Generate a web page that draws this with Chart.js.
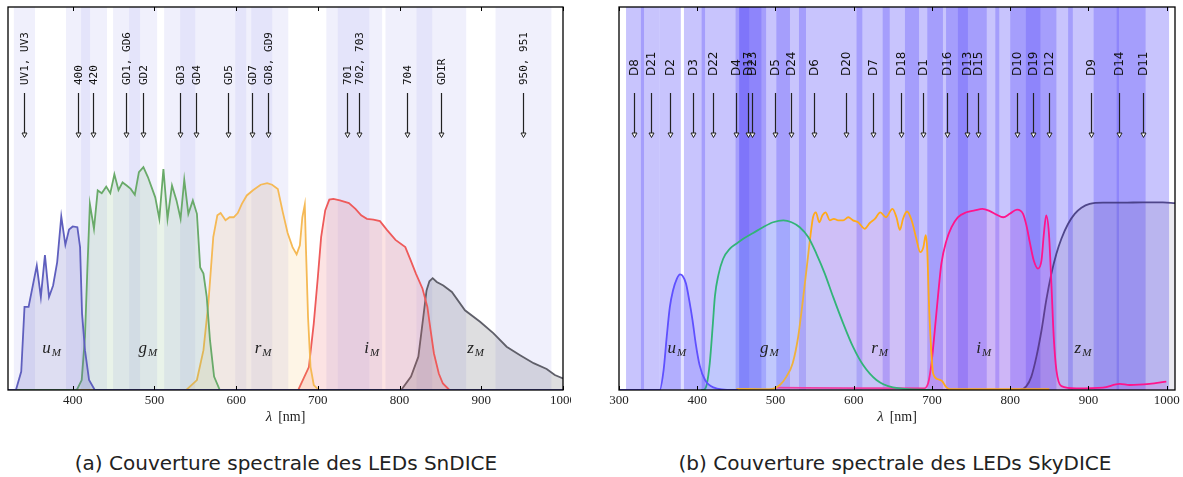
<!DOCTYPE html>
<html>
<head>
<meta charset="utf-8">
<script src="https://cdn.jsdelivr.net/npm/chart.js@4.4.1/dist/chart.umd.min.js"></script>
<style>
  body { margin: 0; background: #fff; width: 1183px; height: 477px; position: relative; overflow: hidden; }
  .wrap { position: absolute; top: 0; height: 440px; overflow: hidden; }
  #wrapA { left: 0; width: 571px; }
  #wrapB { left: 606px; width: 577px; }
  .caption { position: absolute; top: 451px; font-family: "DejaVu Sans", sans-serif; font-size: 20px; line-height: 24px; color: #222; text-align: center; }
  #capA { left: 0; width: 572px; }
  #capB { left: 606px; width: 578px; }
</style>
</head>
<body>
<div class="wrap" id="wrapA"><canvas id="snChart" width="600" height="440"></canvas></div>
<div class="wrap" id="wrapB"><canvas id="skyChart" width="577" height="440"></canvas></div>
<div class="caption" id="capA">(a) Couverture spectrale des LEDs SnDICE</div>
<div class="caption" id="capB">(b) Couverture spectrale des LEDs SkyDICE</div>

<script>
//************ Data : SnDICE (panel a) */

const snTicks = [400, 500, 600, 700, 800, 900, 1000];

// wavelength ranges covered by the LEDs (nm)
const snBands = [[328,353.8],[391.8,421.2],[410.2,442],[449.4,482.5],[469,503.3],[511.9,549.9],[531.5,570],
  [570,612.4],[598.9,644.2],[618.5,663.8],[710.4,763.1],[724.3,778.7],[782.7,840],[820.7,881.6],[917.4,985.8]];

const snArrowLambda = [340.3, 405.9, 424.9, 465.3, 486, 531, 550.7, 590, 619.7, 639.3, 735.8, 750.9, 809.3, 851, 951];
const snArrowLabel = ['UV1, UV3','400','420','GD1, GD6','GD2','GD3','GD4','GD5','GD7','GD8, GD9','701','702, 703','704','GDIR','950, 951'];

// filter transmissions [lambda, T]
const snU = [[320.8,0],[330.5,0],[337,0.048],[341,0.217],[346,0.217],[356,0.325],[361,0.243],[366,0.352],[371,0.243],
  [376,0.273],[381,0.334],[386,0.453],[391,0.379],[395.5,0.419],[400,0.427],[405.7,0.425],[409,0.373],[411.4,0.2],
  [415,0.104],[420,0.026],[427,0],[1000,0]];
const snG = [[320.8,0],[405,0],[411,0.026],[415,0.139],[418,0.32],[421,0.486],[426,0.421],[430.6,0.521],[435.5,0.514],
  [441,0.531],[446,0.514],[451,0.563],[456,0.522],[461,0.542],[466,0.534],[471,0.525],[476,0.51],[481,0.569],
  [486.5,0.582],[492,0.556],[501,0.503],[506,0.447],[511,0.577],[516,0.447],[521.5,0.534],[527,0.495],[532,0.447],
  [536.5,0.549],[541.5,0.46],[547,0.495],[552,0.46],[556,0.32],[560,0.304],[564,0.243],[568,0.13],[573,0.035],
  [580,0],[1000,0]];
const snR = [[320.8,0],[539,0],[552,0.026],[560,0.104],[566,0.226],[572,0.399],[577,0.456],[581,0.462],[587,0.443],
  [592,0.451],[597,0.451],[602,0.462],[607,0.486],[613,0.508],[621,0.522],[630,0.536],[638,0.54],[644,0.536],
  [651,0.525],[657,0.465],[663,0.41],[669,0.373],[674,0.354],[678,0.378],[681,0.451],[684,0.484],[685.5,0.365],
  [688,0.19],[691,0.06],[695,0.013],[701,0],[1000,0]];
const snI = [[320.8,0],[676,0],[689,0.06],[695,0.174],[700,0.295],[704,0.399],[709,0.469],[714,0.497],[719,0.499],
  [727,0.495],[738,0.488],[746,0.473],[753,0.456],[760,0.447],[768,0.445],[776,0.441],[784.5,0.418],[795,0.392],
  [807,0.373],[813.5,0.339],[820,0.304],[828,0.265],[834,0.217],[838,0.156],[842,0.096],[848,0.043],[853,0.017],
  [861,0],[1000,0]];
const snZ = [[320.8,0],[802,0],[814,0.035],[823,0.087],[829,0.19],[833,0.26],[836.5,0.284],[840.5,0.292],[845.5,0.282],
  [853.5,0.273],[864,0.256],[880,0.208],[898.5,0.178],[915,0.148],[931,0.113],[947.5,0.091],[964,0.07],[980,0.055],
  [990,0.039],[1000,0.03]];

//************ Data : SkyDICE (panel b) */

const skyTicks = [300, 400, 500, 600, 700, 800, 900, 1000];

const skyBands = [[309,332],[328,352],[352,379],[383,410],[405.6,466.4],[449,488],[453.6,482],[453.6,501],[501,518.5],
  [501,539],[530,611],[603.6,646],[637,683.5],[665.5,714],[694,733],[718,786],[733,770],[733,746],[781,838.6],
  [800,859],[820,880],[874,939],[906.6,973],[936,1003]];

const skyArrowLambda = [319, 340.5, 365, 395, 419.7, 449.4, 464.4, 469.5, 499, 519.5, 549, 590, 624.8, 660, 688.6,
  719.3, 745, 759.4, 808.7, 829, 849, 903.7, 939, 969.6];
const skyArrowLabel = ['D8','D21','D2','D3','D22','D4','D17','D23','D5','D24','D6','D20','D7','D18','D1',
  'D16','D13','D15','D10','D19','D12','D9','D14','D11'];

const skyU = [[300,0],[352,0],[357,0.052],[361,0.139],[365,0.217],[369,0.26],[374,0.291],[378,0.302],[381,0.299],
  [385.6,0.278],[389.8,0.234],[394,0.182],[398,0.122],[403,0.065],[410,0.026],[420.5,0.007],[446,0],[452,0]];
const skyG = [[405,0],[407.7,0],[412,0.013],[416,0.07],[420,0.174],[422.6,0.245],[427,0.3],[433,0.342],[441.8,0.369],
  [450,0.382],[458.8,0.395],[471.5,0.41],[484,0.425],[497,0.438],[510,0.443],[520.5,0.438],[531,0.425],[542,0.399],
  [552.5,0.355],[563,0.304],[573.7,0.243],[586.5,0.174],[599,0.113],[612,0.065],[629,0.026],[650,0.007],[700,0]];
const skyR = [[450,0.003],[493,0.002],[505.6,0.013],[514,0.035],[522,0.07],[529,0.139],[535,0.234],[540.5,0.33],
  [545,0.408],[548,0.451],[551.6,0.464],[556,0.438],[560,0.456],[564,0.464],[569.5,0.443],[574.6,0.447],[580,0.443],
  [586.5,0.443],[593,0.451],[599,0.443],[605.6,0.438],[614,0.421],[620.5,0.436],[627,0.447],[634,0.464],[641,0.451],
  [649.5,0.473],[654.6,0.451],[659,0.418],[663,0.447],[668,0.466],[674,0.443],[680,0.395],[685,0.36],[689,0.373],
  [692,0.404],[694,0.365],[696,0.234],[698.5,0.122],[701.5,0.043],[708,0.028],[713,0.023],[717.6,0.009],[723,0.002],
  [850,0.002]];
const skyI = [[500,0.006],[600,0.005],[689,0.004],[695,0.017],[699.4,0.07],[703.6,0.156],[708,0.252],[712,0.33],
  [718.5,0.39],[725,0.425],[733,0.451],[744,0.464],[754.7,0.469],[764.5,0.473],[774,0.467],[782.4,0.458],[791,0.451],
  [799.4,0.46],[808.7,0.471],[816.4,0.46],[820.7,0.43],[825,0.386],[830,0.339],[835.5,0.317],[840,0.339],[843,0.408],
  [846,0.456],[849.5,0.408],[852.6,0.278],[855.6,0.139],[859,0.052],[865.4,0.01],[884.5,0.004],[918.5,0.006],
  [940,0.016],[952.6,0.013],[978,0.016],[999.5,0.022]];
const skyZ = [[700,0],[812,0],[820.7,0.01],[827,0.035],[833.5,0.087],[840,0.156],[846,0.234],[852.6,0.304],[859,0.356],
  [865.4,0.395],[874,0.434],[882.4,0.46],[891,0.476],[901.5,0.486],[918.5,0.489],[944,0.489],[969.6,0.49],
  [995,0.49],[1010.6,0.488]];

// filter names and where their label sits (lambda, T)
const filterNames = ['u','g','r','i','z'];
const filterLabelLambda = [374, 492, 633, 766, 893];
const filterLabelT = 0.11;


//******** helpers */
function toXY(pairs) {
    return pairs.map(p => ({x: p[0], y: p[1]}));
}

function lineSet(pairs, line, fillCol, smooth) {
    return {
        data: toXY(pairs),
        borderColor: line,
        backgroundColor: fillCol,
        fill: 'origin',
        borderWidth: 1.8,
        pointRadius: 0,
        tension: 0,
        cubicInterpolationMode: smooth ? 'monotone' : 'default'
    };
}

function panelPlugin(opt) {
    return {
        id: 'panelDeco',
        // LED bands behind everything
        beforeDraw(chart) {
            const ctx = chart.ctx, a = chart.chartArea, x = chart.scales.x;
            ctx.save();
            ctx.beginPath();
            ctx.rect(a.left, a.top, a.right - a.left, a.bottom - a.top);
            ctx.clip();
            ctx.fillStyle = opt.bandColor;
            opt.bands.forEach(b => {
                const x1 = x.getPixelForValue(b[0]);
                const x2 = x.getPixelForValue(b[1]);
                ctx.fillRect(x1, a.top, x2 - x1, a.bottom - a.top);
            });
            ctx.restore();
        },
        afterDatasetsDraw(chart) {
            const ctx = chart.ctx, x = chart.scales.x, y = chart.scales.y;
            ctx.save();
            // filter labels  u_M ...
            ctx.fillStyle = '#222';
            filterNames.forEach((n, i) => {
                const cx = x.getPixelForValue(filterLabelLambda[i]);
                const cy = y.getPixelForValue(filterLabelT) + 5;
                ctx.font = 'italic 17px "Liberation Serif"';
                const w1 = ctx.measureText(n).width;
                ctx.font = 'italic 11px "Liberation Serif"';
                const w2 = ctx.measureText('M').width;
                const x0 = cx - (w1 + w2 + 1) / 2;
                ctx.textAlign = 'left';
                ctx.textBaseline = 'alphabetic';
                ctx.font = 'italic 17px "Liberation Serif"';
                ctx.fillText(n, x0, cy);
                ctx.font = 'italic 11px "Liberation Serif"';
                ctx.fillText('M', x0 + w1 + 1, cy + 3);
            });

            // arrows + LED names
            opt.arrows.forEach((lam, i) => {
                const px = Math.round(x.getPixelForValue(lam)) + 0.5;
                ctx.strokeStyle = '#222';
                ctx.lineWidth = 1.2;
                ctx.beginPath();
                ctx.moveTo(px, 93);
                ctx.lineTo(px, 133);
                ctx.stroke();
                ctx.beginPath();
                ctx.moveTo(px - 2.5, 133);
                ctx.lineTo(px + 2.5, 133);
                ctx.lineTo(px, 137.5);
                ctx.closePath();
                ctx.fillStyle = '#fff';
                ctx.fill();
                ctx.lineWidth = 1;
                ctx.stroke();

                ctx.save();
                ctx.translate(px + 0.5, opt.labelY);
                ctx.rotate(-Math.PI / 2);
                ctx.font = opt.labelFont;
                ctx.fillStyle = '#111';
                ctx.textAlign = 'left';
                ctx.textBaseline = 'middle';
                ctx.fillText(opt.arrowLabels[i], 0, 0);
                ctx.restore();
            });
            ctx.restore();
        },
        afterDraw(chart) {
            const ctx = chart.ctx, a = chart.chartArea, x = chart.scales.x;
            ctx.save();
            // inward ticks
            ctx.strokeStyle = '#000';
            ctx.lineWidth = 1;
            x.ticks.forEach(t => {
                const px = Math.round(x.getPixelForValue(t.value)) + 0.5;
                ctx.beginPath();
                ctx.moveTo(px, a.bottom); ctx.lineTo(px, a.bottom - 4);
                ctx.moveTo(px, a.top); ctx.lineTo(px, a.top + 4);
                ctx.stroke();
            });
            // frame
            ctx.lineWidth = 1.3;
            ctx.strokeStyle = '#000';
            ctx.strokeRect(a.left, a.top, a.right - a.left, a.bottom - a.top);
            // axis title
            const cx = (a.left + a.right) / 2;
            ctx.fillStyle = '#222';
            ctx.textBaseline = 'alphabetic';
            ctx.font = 'italic 15px "Liberation Serif"';
            const wl = ctx.measureText('λ').width;
            ctx.font = '14px "Liberation Serif"';
            const wn = ctx.measureText('[nm]').width;
            const x0 = cx - (wl + 6 + wn) / 2;
            ctx.textAlign = 'left';
            ctx.font = 'italic 15px "Liberation Serif"';
            ctx.fillText('λ', x0, 421);
            ctx.font = '14px "Liberation Serif"';
            ctx.fillText('[nm]', x0 + wl + 6, 421);
            ctx.restore();
        }
    };
}

function chartGen(id, xmin, xmax, padLeft, padRight, tickValues, datasets, plugin) {
    const ctx = document.getElementById(id).getContext('2d');
    return new Chart(ctx, {
        type: 'line',
        data: { datasets: datasets },
        options: {
            responsive: false,
            animation: false,
            events: [],
            layout: { padding: { left: padLeft, right: padRight, top: 7, bottom: 0 }, autoPadding: false },
            plugins: { legend: { display: false }, tooltip: { enabled: false } },
            scales: {
                x: {
                    type: 'linear',
                    min: xmin,
                    max: xmax,
                    afterFit: s => { s.height = 50; },
                    afterBuildTicks: s => { s.ticks = tickValues.map(v => ({ value: v })); },
                    grid: { display: false, drawTicks: false },
                    border: { display: false },
                    ticks: {
                        padding: 3,
                        maxRotation: 0,
                        autoSkip: false,
                        color: '#222',
                        callback: v => String(v),
                        font: { family: 'Liberation Serif', size: 13 }
                    }
                },
                y: { min: 0, max: 1, display: false }
            }
        },
        plugins: [plugin]
    });
}

//******** Panel a  (canvas wider than its clipping box so the "1000" label is cut like the original) */
chartGen('snChart', 320.8, 1000, 8, 37, snTicks, [
    lineSet(snU, 'rgb(95,95,190)', 'rgba(90,90,190,0.2)', false),
    lineSet(snG, 'rgb(105,170,105)', 'rgba(100,170,100,0.14)', false),
    lineSet(snR, 'rgb(245,185,85)', 'rgba(245,185,80,0.14)', false),
    lineSet(snI, 'rgb(238,90,90)', 'rgba(240,90,90,0.17)', false),
    lineSet(snZ, 'rgb(95,95,105)', 'rgba(90,90,100,0.2)', false)
], panelPlugin({
    bands: snBands,
    bandColor: 'rgba(180,180,240,0.2)',
    arrows: snArrowLambda,
    arrowLabels: snArrowLabel,
    labelFont: '11px "DejaVu Sans Mono"',
    labelY: 85
}));

//******** Panel b */
chartGen('skyChart', 300, 1010.6, 13, 8, skyTicks, [
    lineSet(skyU, 'rgb(95,80,255)', 'rgba(80,70,255,0.18)', true),
    lineSet(skyG, 'rgb(50,180,120)', 'rgba(150,220,255,0.15)', true),
    lineSet(skyR, 'rgb(255,170,25)', 'rgba(255,150,200,0.12)', true),
    lineSet(skyI, 'rgb(255,20,140)', 'rgba(255,60,200,0.1)', true),
    lineSet(skyZ, 'rgba(60,50,120,0.85)', 'rgba(60,50,120,0.1)', true)
], panelPlugin({
    bands: skyBands,
    bandColor: 'rgba(100,90,248,0.355)',
    arrows: skyArrowLambda,
    arrowLabels: skyArrowLabel,
    labelFont: '12px "DejaVu Sans"',
    labelY: 76
}));
</script>
</body>
</html>
